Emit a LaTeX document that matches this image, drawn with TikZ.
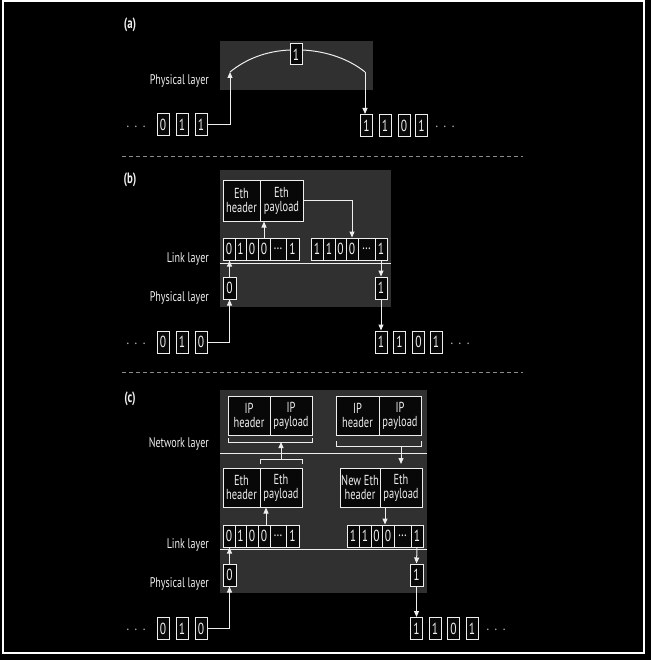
\documentclass[tikz,border=0pt]{standalone}
\usepackage{fontspec}
\setmainfont{PT Sans}[FakeStretch=0.72]
\usetikzlibrary{arrows.meta}
\definecolor{fg}{RGB}{238,238,238}
\definecolor{panel}{RGB}{47,48,47}
\definecolor{boxbg}{RGB}{8,8,8}
\definecolor{dashc}{RGB}{140,140,140}
\begin{document}
\begin{tikzpicture}[x=1pt,y=-1pt,
  cell/.style={draw=fg, fill=boxbg, line width=1pt, inner sep=0pt, minimum height=22pt, text=fg, font=\fontsize{16}{16}\selectfont},
  framebox/.style={draw=fg, fill=boxbg, line width=1pt, inner sep=0pt, minimum height=39pt, text=fg, align=center, font=\fontsize{14.5}{14}\selectfont},
  lbl/.style={text=fg, anchor=east, inner sep=0pt, font=\fontsize{14}{14}\selectfont},
  ellip/.style={text=fg, inner sep=0pt, font=\fontsize{14}{14}\selectfont},
  paneltag/.style={text=fg, inner sep=0pt, font=\bfseries\fontsize{15}{15}\selectfont},
  link/.style={draw=fg, line width=1pt, -{Triangle[length=6pt,width=5pt]}},
  wire/.style={draw=fg, line width=1pt},
  sepline/.style={draw=dashc, line width=1pt, dash pattern=on 4pt off 3pt}]
\useasboundingbox (0,0) rectangle (651,660);
\fill[black] (0,0) rectangle (651,660);
\draw[white, line width=1.5pt] (3,1) rectangle (644,653);
\newcommand{\dotsrow}{.\hspace{6pt}.\hspace{6pt}.}

% ---------------- (a)
\fill[panel] (220,41) rectangle (373,90);
\node[paneltag] (ta) at (130,25) {(a)};
\node[lbl] (pa) at (209,80.5) {Physical layer};
\node[cell,minimum width=12pt,minimum height=21pt] (a1) at (296,54.5) {1};
\node[ellip] (adl) at (136,126.5) {\dotsrow};
\node[cell,minimum width=12pt] (al1) at (163,125) {0};
\node[cell,minimum width=12pt] (al2) at (182,125) {1};
\node[cell,minimum width=12pt] (al3) at (201,125) {1};
\node[cell,minimum width=12pt] (ar1) at (366.5,125.5) {1};
\node[cell,minimum width=12pt] (ar2) at (385,125.5) {1};
\node[cell,minimum width=12pt] (ar3) at (404,125.5) {0};
\node[cell,minimum width=12pt] (ar4) at (421.5,125.5) {1};
\node[ellip] (adr) at (445,127) {\dotsrow};
\coordinate (arcL) at (230,72);
\coordinate (arcR) at (365,72);
\coordinate (a1l) at (290,50);
\coordinate (a1r) at (302,50);
\draw[link] (al3.east) -| (arcL);
\draw[wire] (arcL) .. controls (246,59) and (266,51) .. (a1l);
\draw[wire] (a1r) .. controls (326,51) and (349,59) .. (arcR);
\draw[link] (arcR) -- (arcR |- ar1.north);

\draw[sepline] (122,157) -- (523,157);

% ---------------- (b)
\fill[panel] (220,170) rectangle (391,307);
\node[paneltag] (tb) at (130,180) {(b)};
\node[lbl] (lb1) at (209,259) {Link layer};
\node[lbl] (lb2) at (209,298) {Physical layer};
\node[framebox,minimum width=37pt,minimum height=40pt] (bH) at (241.5,201) {Eth\\header};
\node[framebox,minimum width=43pt,minimum height=40pt] (bP) at (281.5,201) {Eth\\payload};
\node[cell,minimum width=12pt] (bL1) at (229,249) {0};
\node[cell,minimum width=11pt] (bL2) at (240.5,249) {1};
\node[cell,minimum width=12pt] (bL3) at (252,249) {0};
\node[cell,minimum width=12pt] (bL4) at (264,249) {0};
\node[cell,minimum width=16pt] (bL5) at (278,249) {\dots};
\node[cell,minimum width=13pt] (bL6) at (292.5,249) {1};
\node[cell,minimum width=12pt] (bR1) at (317,249) {1};
\node[cell,minimum width=12pt] (bR2) at (329,249) {1};
\node[cell,minimum width=11pt] (bR3) at (340.5,249) {0};
\node[cell,minimum width=12pt] (bR4) at (352,249) {0};
\node[cell,minimum width=17pt] (bR5) at (366.5,249) {\dots};
\node[cell,minimum width=12pt] (bR6) at (381,249) {1};
\draw[wire] (220,263) -- (391,263);
\node[cell,minimum width=13pt] (b0) at (229.5,288) {0};
\node[cell,minimum width=12pt] (b1) at (381,288) {1};
\node[ellip] (bdl) at (136,343.5) {\dotsrow};
\node[cell,minimum width=12pt] (bl1) at (163,342) {0};
\node[cell,minimum width=12pt] (bl2) at (182,342) {1};
\node[cell,minimum width=12pt] (bl3) at (201,342) {0};
\node[cell,minimum width=12pt] (br1) at (381,342) {1};
\node[cell,minimum width=12pt] (br2) at (399.5,342) {1};
\node[cell,minimum width=12pt] (br3) at (418.5,342) {0};
\node[cell,minimum width=12pt] (br4) at (436,342) {1};
\node[ellip] (bdr) at (460,343.5) {\dotsrow};
\draw[link] (bL4.north) -- (bL4.north |- bP.south);
\draw[link] (bP.east) -| (bR4.north);
\draw[link] (b0.north) -- (b0.north |- bL1.south);
\draw[link] (bR6.south) -- (b1.north);
\draw[link] (bl3.east) -| (b0.south);
\draw[link] (b1.south) -- (br1.north);

\draw[sepline] (122,372) -- (523,372);

% ---------------- (c)
\fill[panel] (220,390) rectangle (427,593);
\node[paneltag] (tc) at (130,399) {(c)};
\node[lbl] (lc0) at (209,444) {Network layer};
\node[lbl] (lc1) at (209,545) {Link layer};
\node[lbl] (lc2) at (209,584) {Physical layer};
\node[framebox,minimum width=42pt] (iH1) at (249,415.5) {IP\\header};
\node[framebox,minimum width=42pt] (iP1) at (291,415.5) {IP\\payload};
\node[framebox,minimum width=43pt] (iH2) at (357.5,415.5) {IP\\header};
\node[framebox,minimum width=42pt] (iP2) at (400,415.5) {IP\\payload};
\coordinate (br1a) at (228,438);
\coordinate (br1b) at (312,438);
\coordinate (br2a) at (336,441);
\coordinate (br2b) at (421,441);
\draw[wire] (br1a) -- ++(0,4) coordinate (br1c) -- (br1b |- br1c) -- (br1b);
\draw[wire] (br2a) -- ++(0,5) coordinate (br2c) -- (br2b |- br2c) -- (br2b);
\draw[wire] (220,453) -- (427,453);
\node[framebox,minimum width=37pt] (cH1) at (241.5,487.5) {Eth\\header};
\node[framebox,minimum width=42pt] (cP1) at (281,487.5) {Eth\\payload};
\node[framebox,minimum width=40pt] (cH2) at (360,487.5) {New Eth\\header};
\node[framebox,minimum width=42pt] (cP2) at (401,487.5) {Eth\\payload};
\coordinate (eb1) at (260,464);
\coordinate (eb2) at (302,464);
\draw[wire] (eb1) -- ++(0,-5) coordinate (eb3) -- (eb2 |- eb3) -- (eb2);
\coordinate (upc) at (281,459);
\draw[link] (upc) -- (upc |- br1c);
\coordinate (dnc) at (401,446);
\draw[link] (dnc) -- (401,464);
\node[cell,minimum width=12pt] (cL1) at (229,536) {0};
\node[cell,minimum width=11pt] (cL2) at (240.5,536) {1};
\node[cell,minimum width=12pt] (cL3) at (252,536) {0};
\node[cell,minimum width=12pt] (cL4) at (264,536) {0};
\node[cell,minimum width=16pt] (cL5) at (278,536) {\dots};
\node[cell,minimum width=13pt] (cL6) at (292.5,536) {1};
\node[cell,minimum width=12pt] (cR1) at (353,536) {1};
\node[cell,minimum width=12pt] (cR2) at (365,536) {1};
\node[cell,minimum width=11pt] (cR3) at (376.5,536) {0};
\node[cell,minimum width=12pt] (cR4) at (388,536) {0};
\node[cell,minimum width=17pt] (cR5) at (402.5,536) {\dots};
\node[cell,minimum width=12pt] (cR6) at (417,536) {1};
\draw[link] ([xshift=2pt]cL4.north) -- ([xshift=2pt]cL4.north |- cP1.south);
\draw[link] ([xshift=-3pt]cR4.north |- cP2.south) -- ([xshift=-3pt]cR4.north);
\draw[wire] (220,549) -- (427,549);
\node[cell,minimum width=13pt] (c0) at (229.5,575) {0};
\node[cell,minimum width=13pt] (c1) at (416.5,575) {1};
\node[ellip] (cdl) at (136,630) {\dotsrow};
\node[cell,minimum width=12pt] (cl1) at (163,628.5) {0};
\node[cell,minimum width=12pt] (cl2) at (182,628.5) {1};
\node[cell,minimum width=12pt] (cl3) at (201,628.5) {0};
\node[cell,minimum width=12pt] (cr1) at (416.5,628.5) {1};
\node[cell,minimum width=12pt] (cr2) at (435,628.5) {1};
\node[cell,minimum width=12pt] (cr3) at (453.5,628.5) {0};
\node[cell,minimum width=12pt] (cr4) at (472,628.5) {1};
\node[ellip] (cdr) at (496,630) {\dotsrow};
\draw[link] (c0.north) -- (c0.north |- cL1.south);
\draw[link] (cR6.south) -- (c1.north);
\draw[link] (cl3.east) -| (c0.south);
\draw[link] (c1.south) -- (cr1.north);
\end{tikzpicture}
\end{document}
